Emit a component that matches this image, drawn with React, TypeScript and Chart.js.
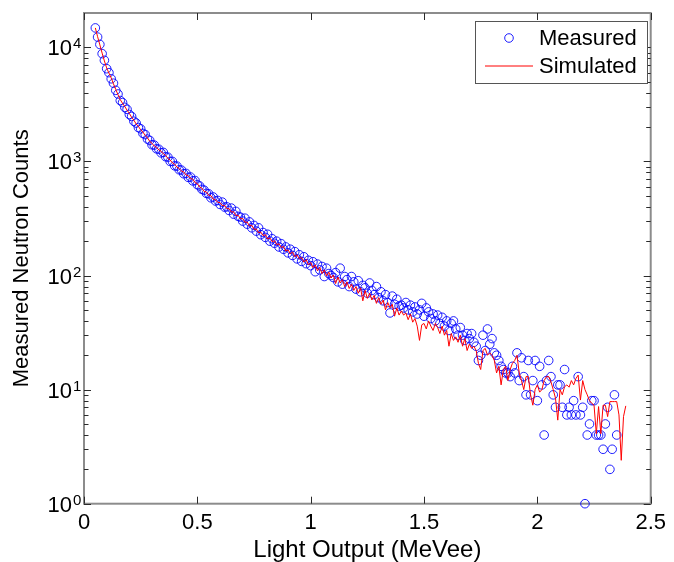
import React, { useEffect, useRef } from "react";
import { Chart, registerables } from "chart.js";

Chart.register(...registerables);

// Light output (MeVee) bin centres
const lightOutput = [
  0.05, 0.06, 0.07, 0.08, 0.09,
  0.10, 0.11, 0.12, 0.13, 0.14, 0.15, 0.16, 0.17, 0.18, 0.19,
  0.20, 0.21, 0.22, 0.23, 0.24, 0.25, 0.26, 0.27, 0.28, 0.29,
  0.30, 0.31, 0.32, 0.33, 0.34, 0.35, 0.36, 0.37, 0.38, 0.39,
  0.40, 0.41, 0.42, 0.43, 0.44, 0.45, 0.46, 0.47, 0.48, 0.49,
  0.50, 0.51, 0.52, 0.53, 0.54, 0.55, 0.56, 0.57, 0.58, 0.59,
  0.60, 0.61, 0.62, 0.63, 0.64, 0.65, 0.66, 0.67, 0.68, 0.69,
  0.70, 0.71, 0.72, 0.73, 0.74, 0.75, 0.76, 0.77, 0.78, 0.79,
  0.80, 0.81, 0.82, 0.83, 0.84, 0.85, 0.86, 0.87, 0.88, 0.89,
  0.90, 0.91, 0.92, 0.93, 0.94, 0.95, 0.96, 0.97, 0.98, 0.99,
  1.00, 1.01, 1.02, 1.03, 1.04, 1.05, 1.06, 1.07, 1.08, 1.09,
  1.10, 1.11, 1.12, 1.13, 1.14, 1.15, 1.16, 1.17, 1.18, 1.19,
  1.20, 1.21, 1.22, 1.23, 1.24, 1.25, 1.26, 1.27, 1.28, 1.29,
  1.30, 1.31, 1.32, 1.33, 1.34, 1.35, 1.36, 1.37, 1.38, 1.39,
  1.40, 1.41, 1.42, 1.43, 1.44, 1.45, 1.46, 1.47, 1.48, 1.49,
  1.50, 1.51, 1.52, 1.53, 1.54, 1.55, 1.56, 1.57, 1.58, 1.59,
  1.60, 1.61, 1.62, 1.63, 1.64, 1.65, 1.66, 1.67, 1.68, 1.69,
  1.70, 1.71, 1.72, 1.73, 1.74, 1.75, 1.76, 1.77, 1.78, 1.79,
  1.80, 1.81, 1.82, 1.83, 1.84, 1.85, 1.86, 1.87, 1.88, 1.89,
  1.90, 1.91, 1.92, 1.93, 1.94, 1.95, 1.96, 1.97, 1.98, 1.99,
  2.00, 2.01, 2.02, 2.03, 2.04, 2.05, 2.06, 2.07, 2.08, 2.09,
  2.10, 2.11, 2.12, 2.13, 2.14, 2.15, 2.16, 2.17, 2.18, 2.19,
  2.20, 2.21, 2.22, 2.23, 2.24, 2.25, 2.26, 2.27, 2.28, 2.29,
  2.30, 2.31, 2.32, 2.33, 2.34, 2.35, 2.36, 2.37, 2.38, 2.39,
];

// Measured counts (circles), 0.05 .. 2.35
const measuredCounts = [
  14800, 12300, 10600, 8800, 7700,
  6500, 6000, 5300, 4850, 4200, 3900, 3420, 3280, 2980, 2860,
  2580, 2480, 2250, 2170, 1980, 1930, 1760, 1720, 1570, 1530,
  1400, 1390, 1290, 1280, 1190, 1200, 1100, 1090, 1000, 1000,
  915, 910, 845, 840, 780, 785, 725, 730, 675, 680,
  625, 610, 570, 560, 525, 520, 480, 488, 450, 455,
  420, 440, 398, 400, 372, 390, 345, 365, 330, 325,
  300, 318, 282, 295, 262, 275, 245, 262, 228, 238,
  216, 230, 200, 210, 192, 200, 178, 190, 170, 178,
  158, 170, 150, 162, 140, 152, 133, 146, 127, 136,
  122, 132, 108, 126, 112, 120, 98, 116, 104, 100,
  96, 106, 88, 116, 84, 98, 92, 80, 98, 88,
  76, 90, 72, 82, 78, 70, 86, 74, 68, 80,
  64, 72, 60, 68, 58, 47, 66, 56, 62, 54,
  55, 52, 58, 50, 55, 48, 53, 46, 50, 57,
  44, 52, 48, 42, 46, 40, 45, 38, 43, 36,
  40, 33, 38, 40, 34, 30, 35, 30, 27, 31,
  28, 31, 26, 24, 18, 20, 30, 22, 34, 25,
  28, 21, 20, 18, 16, 15, 14, 14, 13, 16,
  14, 21, 12, 19, 13, 9, 18, 9, 12, 18,
  8, 16, 11, 4, 12, 18, 13, 9, 7, 11,
  11, 7, 15, 6, 7, 6, 8, 6, 13, 6,
  7, 1, 4, 5, 8, 8, 4, 4, 4, 3,
  5, 7, 2, 3, 9, 4,
];

// Simulated counts (line), 0.05 .. 2.39
const simulatedCounts = [
  14800, 12400, 10500, 8900, 7600,
  6600, 5950, 5400, 4780, 4280, 3840, 3480, 3230, 3030, 2810,
  2640, 2440, 2300, 2130, 2030, 1890, 1810, 1690, 1610, 1500,
  1440, 1365, 1330, 1262, 1230, 1168, 1130, 1064, 1030, 972,
  945, 890, 868, 822, 808, 762, 750, 708, 698, 652,
  640, 596, 582, 545, 540, 505, 500, 468, 462, 438,
  436, 410, 412, 386, 386, 360, 362, 336, 338, 314,
  316, 293, 294, 272, 276, 254, 256, 237, 240, 224,
  228, 209, 214, 198, 202, 186, 190, 176, 180, 164,
  168, 155, 161, 146, 152, 140, 144, 131, 138, 124,
  130, 117, 124, 110, 118, 104, 112, 99, 107, 95,
  101, 85, 97, 86, 92, 80, 88, 77, 84, 74,
  80, 70, 78, 60, 74, 63, 70, 61, 67, 57,
  64, 56, 61, 50, 58, 52, 56, 44, 52, 45,
  49, 45, 47, 41, 46, 39, 42, 36, 27, 37,
  38, 34, 40, 36, 33, 38, 35, 31, 36, 30,
  33, 24, 31, 27, 29, 26, 30, 24, 28, 22,
  25, 23, 24, 22, 17, 15, 22, 23, 20, 21,
  20, 18, 14, 16, 11, 15, 16, 12, 15, 17,
  18, 20, 14, 12, 10, 13, 13, 9, 7.3, 10,
  11, 9.5, 10, 12, 13, 13, 11.7, 10, 8.4, 5.4,
  10, 9, 10.6, 11, 10.5, 12, 11, 12.5, 13.4, 8.1,
  12, 10, 9, 8, 7.6, 7.3, 4.1, 7.1, 4.1, 7.3,
  7.3, 5.8, 7.85, 7.85, 7.85, 7.85, 6, 2.4, 5.8, 7.2,
];

const xTickValues = [0, 0.5, 1, 1.5, 2, 2.5];
const yDecades = [0, 1, 2, 3, 4];
const seriesLabels = ["Measured", "Simulated"];
const xTitle = "Light Output (MeVee)";
const yTitle = "Measured Neutron Counts";

const FONT = '"Liberation Sans", Arial, Helvetica, sans-serif';
const BLUE = "rgba(0,0,255,0.88)";
const RED = "#ff0000";

const framePlugin = {
  id: "matlabFrame",
  beforeDatasetsDraw(chart: any) {
    const { ctx, chartArea: a, scales } = chart;
    const xs = scales.x;
    const ys = scales.y;
    ctx.save();
    ctx.strokeStyle = "#8c8c8c";
    ctx.lineWidth = 2;
    ctx.strokeRect(a.left, a.top, a.right - a.left, a.bottom - a.top);
    ctx.strokeStyle = "#2a2a2a";
    ctx.lineWidth = 1;
    ctx.beginPath();
    for (const v of xTickValues) {
      const px = Math.round(xs.getPixelForValue(v)) + 0.5;
      ctx.moveTo(px, a.bottom);
      ctx.lineTo(px, a.bottom - 7);
      ctx.moveTo(px, a.top);
      ctx.lineTo(px, a.top + 7);
    }
    for (const k of yDecades) {
      for (let m = 1; m <= 9; m++) {
        const v = m * Math.pow(10, k);
        if (v >= ys.max) break;
        const py = Math.round(ys.getPixelForValue(v)) + 0.5;
        const len = m === 1 ? 7 : 4.5;
        ctx.moveTo(a.left, py);
        ctx.lineTo(a.left + len, py);
        ctx.moveTo(a.right, py);
        ctx.lineTo(a.right - len, py);
      }
    }
    ctx.stroke();
    ctx.restore();
  },
  afterDraw(chart: any) {
    const { ctx, scales } = chart;
    const ys = scales.y;
    ctx.save();
    ctx.fillStyle = "#000";
    // y tick labels 10^k
    for (const k of yDecades) {
      const py = ys.getPixelForValue(Math.pow(10, k));
      ctx.font = `22px ${FONT}`;
      ctx.textAlign = "right";
      ctx.textBaseline = "alphabetic";
      ctx.fillText("10", 72, py + 8);
      ctx.font = `15px ${FONT}`;
      ctx.textAlign = "left";
      ctx.fillText(String(k), 73, py + 1);
    }
    // legend
    const bx = 475.5, by = 21.5, bw = 172, bh = 62;
    ctx.fillStyle = "#fff";
    ctx.fillRect(bx, by, bw, bh);
    ctx.strokeStyle = "#555";
    ctx.lineWidth = 1;
    ctx.strokeRect(bx, by, bw, bh);
    ctx.strokeStyle = BLUE;
    ctx.beginPath();
    ctx.arc(509, 38, 4.3, 0, Math.PI * 2);
    ctx.stroke();
    ctx.strokeStyle = RED;
    ctx.beginPath();
    ctx.moveTo(485, 66);
    ctx.lineTo(533, 66);
    ctx.stroke();
    ctx.fillStyle = "#000";
    ctx.font = `22px ${FONT}`;
    ctx.textAlign = "left";
    ctx.textBaseline = "alphabetic";
    ctx.fillText(seriesLabels[0], 539, 45);
    ctx.fillText(seriesLabels[1], 539, 73);
    ctx.restore();
  },
};

export default function App() {
  const ref = useRef<HTMLCanvasElement | null>(null);
  useEffect(() => {
    if (!ref.current) return;
    const measured = measuredCounts.map((v, i) => ({ x: lightOutput[i], y: v }));
    const simulated = simulatedCounts.map((v, i) => ({ x: lightOutput[i], y: v }));
    const chart = new Chart(ref.current, {
      type: "scatter",
      data: {
        datasets: [
          {
            label: seriesLabels[0],
            data: measured,
            showLine: false,
            pointStyle: "circle",
            pointRadius: 4.3,
            pointHoverRadius: 4.3,
            pointBorderWidth: 1,
            pointBorderColor: BLUE,
            pointBackgroundColor: "rgba(0,0,0,0)",
            clip: false,
            order: 2,
          } as any,
          {
            label: seriesLabels[1],
            data: simulated,
            showLine: true,
            borderColor: RED,
            borderWidth: 1,
            pointRadius: 0,
            pointHoverRadius: 0,
            tension: 0,
            order: 1,
          } as any,
        ],
      },
      options: {
        responsive: false,
        animation: false,
        devicePixelRatio: 1,
        events: [],
        layout: { padding: { left: 0, top: 13, right: 18.5, bottom: 0 } },
        plugins: { legend: { display: false }, tooltip: { enabled: false } },
        scales: {
          x: {
            type: "linear",
            min: 0,
            max: 2.5,
            border: { display: false },
            grid: { display: false, drawTicks: false },
            ticks: {
              stepSize: 0.5,
              color: "#000",
              padding: 8,
              maxRotation: 0,
              autoSkip: false,
              font: { family: FONT, size: 22, lineHeight: 1 },
              callback: (v: any) => String(v),
            },
            title: {
              display: true,
              text: xTitle,
              color: "#000",
              font: { family: FONT, size: 24, lineHeight: 1 },
              padding: { top: 0, bottom: 0 },
            },
            afterFit: (s: any) => {
              s.height = 58.3;
            },
          },
          y: {
            type: "logarithmic",
            min: 1,
            max: 20000,
            border: { display: false },
            grid: { display: false, drawTicks: false },
            ticks: { display: false },
            title: {
              display: true,
              text: yTitle,
              color: "#000",
              font: { family: FONT, size: 22, lineHeight: 1 },
              padding: { top: 11, bottom: 0 },
            },
            afterFit: (s: any) => {
              s.width = 84;
            },
          },
        },
      },
      plugins: [framePlugin],
    });
    return () => chart.destroy();
  }, []);
  return (
    <div style={{ position: "absolute", left: 0, top: 0, width: 674, height: 562, background: "#fff" }}>
      <canvas ref={ref} width={674} height={562} />
    </div>
  );
}
